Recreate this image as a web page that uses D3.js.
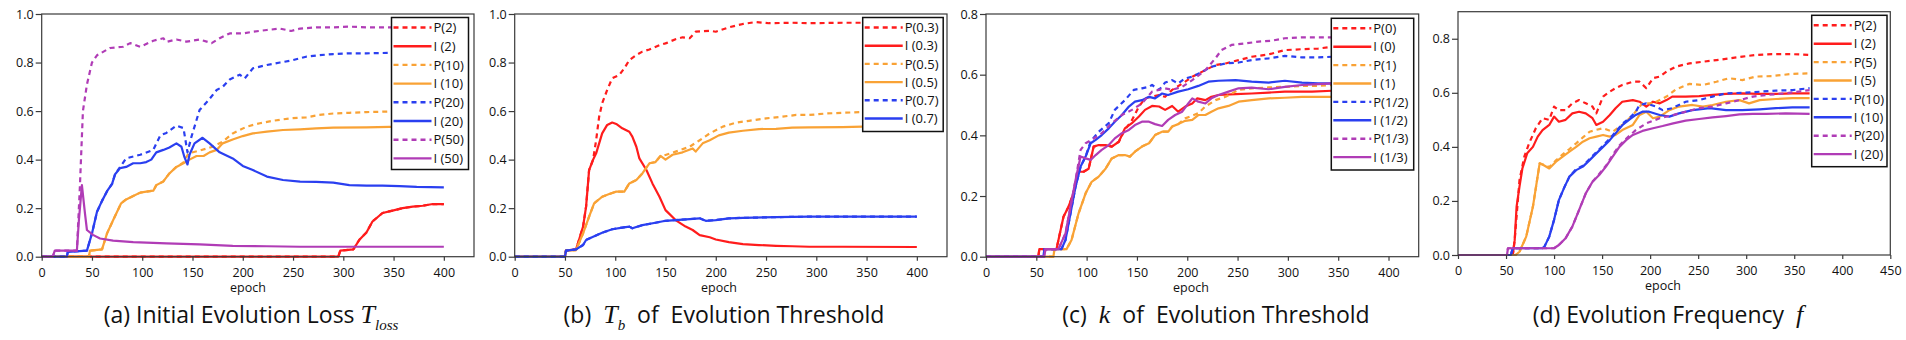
<!DOCTYPE html>
<html>
<head>
<meta charset="utf-8">
<script src="https://cdn.jsdelivr.net/npm/d3@7"></script>
<style>
  body { margin: 0; background: #fff; }
  text { white-space: pre; }
</style>
</head>
<body>
<svg id="chart" width="1906" height="340"></svg>
<script>
// ---- tick labels ----
const xTicks400 = [0, 50, 100, 150, 200, 250, 300, 350, 400];
const xTicks450 = [0, 50, 100, 150, 200, 250, 300, 350, 400, 450];
const yTicks10 = [0, 0.2, 0.4, 0.6, 0.8, 1.0];
const yTicks08 = [0, 0.2, 0.4, 0.6, 0.8];

// ---- legend labels ----
const legendA = ['P(2)', 'I (2)', 'P(10)', 'I (10)', 'P(20)', 'I (20)', 'P(50)', 'I (50)'];
const legendB = ['P(0.3)', 'I (0.3)', 'P(0.5)', 'I (0.5)', 'P(0.7)', 'I (0.7)'];
const legendC = ['P(0)', 'I (0)', 'P(1)', 'I (1)', 'P(1/2)', 'I (1/2)', 'P(1/3)', 'I (1/3)'];
const legendD = ['P(2)', 'I (2)', 'P(5)', 'I (5)', 'P(10)', 'I (10)', 'P(20)', 'I (20)'];

// ---- (a) initial evolution loss, [epoch, value] ----
const aP2 = [[0,0],[295,0],[297,0.025],[310,0.03],[316,0.07],[323,0.10],[329,0.145],[339,0.18],[349,0.19],[359,0.20],[369,0.206],[379,0.21],[389,0.217],[400,0.217]];
const aI2 = [[0,0],[295,0],[297,0.025],[310,0.03],[316,0.07],[323,0.10],[329,0.145],[339,0.18],[349,0.19],[359,0.20],[369,0.206],[379,0.21],[389,0.217],[400,0.217]];
const aP10 = [[0,0],[47,0],[48,0.025],[60,0.03],[65,0.096],[71,0.15],[79,0.22],[84,0.236],[91,0.25],[98,0.264],[104,0.268],[111,0.272],[114,0.295],[121,0.31],[127,0.343],[134,0.37],[141,0.388],[146,0.426],[157,0.437],[170,0.453],[180,0.474],[190,0.508],[204,0.536],[217,0.55],[230,0.56],[247,0.57],[263,0.574],[276,0.584],[290,0.59],[306,0.593],[323,0.596],[346,0.598],[400,0.598]];
const aI10 = [[0,0],[47,0],[48,0.025],[60,0.03],[65,0.096],[71,0.15],[79,0.22],[84,0.236],[91,0.25],[98,0.264],[104,0.268],[111,0.272],[114,0.295],[121,0.31],[127,0.343],[134,0.37],[141,0.385],[147,0.40],[154,0.415],[161,0.415],[167,0.43],[174,0.44],[180,0.467],[190,0.483],[200,0.497],[210,0.508],[224,0.515],[240,0.522],[257,0.525],[273,0.529],[290,0.532],[323,0.533],[346,0.535],[400,0.535]];
const aP20 = [[0,0],[25,0],[26,0.02],[45,0.025],[50,0.096],[55,0.185],[60,0.23],[65,0.27],[70,0.30],[73,0.34],[78,0.37],[84,0.405],[98,0.42],[111,0.44],[118,0.50],[124,0.51],[134,0.54],[141,0.53],[145,0.43],[149,0.495],[157,0.604],[166,0.645],[174,0.687],[180,0.70],[187,0.73],[197,0.75],[202,0.735],[210,0.776],[224,0.79],[237,0.80],[250,0.81],[263,0.824],[276,0.83],[290,0.835],[306,0.838],[323,0.838],[346,0.84],[400,0.845]];
const aI20 = [[0,0],[25,0],[26,0.02],[45,0.025],[50,0.096],[55,0.185],[60,0.23],[65,0.27],[70,0.30],[73,0.34],[78,0.365],[84,0.37],[91,0.385],[98,0.385],[104,0.39],[109,0.40],[114,0.43],[121,0.44],[127,0.45],[134,0.467],[139,0.453],[142,0.41],[145,0.38],[147,0.42],[152,0.467],[160,0.49],[167,0.467],[177,0.43],[190,0.405],[200,0.374],[210,0.357],[224,0.33],[240,0.316],[257,0.309],[273,0.308],[290,0.305],[306,0.295],[323,0.293],[339,0.293],[356,0.291],[373,0.288],[400,0.286]];
const aP50 = [[0,0],[11,0],[13,0.025],[35,0.025],[38,0.29],[41,0.6],[45,0.71],[50,0.80],[55,0.83],[68,0.86],[81,0.865],[88,0.88],[98,0.865],[111,0.89],[121,0.90],[124,0.885],[134,0.895],[144,0.886],[157,0.895],[169,0.88],[177,0.90],[187,0.92],[200,0.92],[210,0.927],[224,0.934],[237,0.94],[248,0.93],[257,0.94],[273,0.945],[290,0.945],[306,0.948],[323,0.945],[346,0.945],[400,0.945]];
const aI50 = [[0,0],[11,0],[13,0.025],[35,0.025],[37,0.15],[40,0.295],[43,0.18],[45,0.11],[51,0.09],[58,0.075],[71,0.066],[91,0.06],[124,0.055],[157,0.051],[190,0.045],[224,0.043],[257,0.041],[400,0.041]];

// ---- (b) T_b of evolution threshold ----
const bP03 = [[0,0],[50,0],[51,0.025],[61,0.03],[64,0.07],[68,0.124],[71,0.206],[74,0.357],[78,0.40],[81,0.48],[84,0.577],[87,0.632],[92,0.687],[97,0.735],[104,0.749],[109,0.776],[114,0.81],[121,0.831],[127,0.845],[134,0.854],[144,0.872],[150,0.879],[160,0.896],[167,0.904],[174,0.90],[180,0.927],[194,0.931],[200,0.927],[213,0.945],[227,0.959],[240,0.967],[253,0.962],[276,0.964],[293,0.962],[326,0.964],[400,0.964]];
const bI03 = [[0,0],[50,0],[51,0.025],[61,0.03],[64,0.07],[68,0.124],[71,0.206],[74,0.357],[78,0.40],[81,0.426],[84,0.467],[87,0.508],[92,0.543],[97,0.553],[101,0.547],[107,0.529],[114,0.515],[117,0.495],[121,0.453],[124,0.405],[131,0.357],[137,0.302],[144,0.247],[150,0.192],[160,0.151],[170,0.124],[177,0.11],[184,0.089],[194,0.08],[200,0.071],[213,0.06],[227,0.052],[243,0.048],[260,0.045],[276,0.043],[293,0.041],[326,0.041],[400,0.04]];
const bP05 = [[0,0],[50,0],[51,0.025],[61,0.027],[68,0.096],[74,0.165],[79,0.22],[87,0.247],[94,0.258],[101,0.268],[109,0.268],[114,0.302],[121,0.316],[127,0.343],[134,0.385],[140,0.39],[145,0.415],[150,0.419],[160,0.433],[174,0.453],[184,0.48],[194,0.508],[207,0.536],[220,0.552],[233,0.56],[250,0.57],[266,0.577],[280,0.584],[293,0.584],[310,0.59],[326,0.593],[346,0.596],[400,0.597]];
const bI05 = [[0,0],[50,0],[51,0.025],[61,0.027],[68,0.096],[74,0.165],[79,0.22],[87,0.247],[94,0.258],[101,0.268],[109,0.268],[114,0.302],[121,0.316],[127,0.343],[134,0.385],[140,0.39],[145,0.415],[150,0.40],[157,0.42],[167,0.43],[177,0.446],[180,0.433],[187,0.467],[194,0.48],[203,0.50],[213,0.511],[227,0.519],[243,0.526],[260,0.527],[276,0.532],[293,0.533],[326,0.534],[346,0.536],[400,0.536]];
const bP07 = [[0,0],[50,0],[51,0.025],[61,0.03],[68,0.048],[71,0.069],[78,0.082],[87,0.099],[97,0.113],[107,0.12],[114,0.124],[117,0.117],[127,0.13],[140,0.14],[150,0.148],[160,0.151],[174,0.155],[184,0.158],[190,0.148],[200,0.151],[213,0.158],[227,0.16],[260,0.163],[293,0.165],[326,0.165],[400,0.165]];
const bI07 = [[0,0],[50,0],[51,0.025],[61,0.03],[68,0.048],[71,0.069],[78,0.082],[87,0.099],[97,0.113],[107,0.12],[114,0.124],[117,0.117],[127,0.13],[140,0.14],[150,0.148],[160,0.151],[174,0.155],[184,0.158],[190,0.148],[200,0.151],[213,0.158],[227,0.16],[260,0.163],[293,0.165],[326,0.165],[400,0.165]];

// ---- (c) k of evolution threshold ----
const cP0 = [[0,0],[52,0],[53,0.025],[70,0.025],[72,0.055],[77,0.132],[82,0.165],[87,0.209],[92,0.28],[97,0.28],[102,0.29],[107,0.363],[112,0.368],[119,0.368],[125,0.363],[132,0.379],[138,0.418],[145,0.45],[152,0.495],[158,0.522],[172,0.533],[178,0.527],[185,0.55],[198,0.577],[205,0.593],[215,0.61],[228,0.632],[238,0.637],[251,0.648],[264,0.659],[281,0.667],[297,0.681],[314,0.684],[330,0.686],[344,0.692]];
const cI0 = [[0,0],[52,0],[53,0.025],[70,0.025],[72,0.055],[77,0.132],[82,0.165],[87,0.209],[92,0.28],[97,0.28],[102,0.29],[107,0.363],[112,0.368],[119,0.368],[125,0.363],[132,0.379],[138,0.423],[145,0.44],[152,0.462],[158,0.484],[165,0.497],[172,0.495],[178,0.484],[185,0.497],[191,0.478],[198,0.495],[205,0.505],[210,0.522],[218,0.516],[224,0.527],[231,0.533],[248,0.536],[264,0.538],[281,0.541],[297,0.544],[324,0.544],[344,0.547]];
const cP1 = [[0,0],[67,0],[68,0.025],[80,0.025],[85,0.055],[92,0.143],[99,0.209],[105,0.247],[112,0.264],[119,0.291],[125,0.324],[132,0.335],[138,0.335],[143,0.33],[148,0.346],[155,0.363],[162,0.374],[168,0.401],[175,0.412],[181,0.412],[185,0.429],[191,0.437],[198,0.456],[211,0.473],[218,0.495],[228,0.516],[238,0.527],[251,0.55],[264,0.555],[281,0.558],[297,0.56],[314,0.563],[330,0.563],[344,0.566]];
const cI1 = [[0,0],[67,0],[68,0.025],[80,0.025],[85,0.055],[92,0.143],[99,0.209],[105,0.247],[112,0.264],[119,0.291],[125,0.324],[132,0.335],[138,0.335],[143,0.33],[148,0.346],[155,0.363],[162,0.374],[168,0.401],[175,0.412],[181,0.412],[185,0.429],[191,0.437],[198,0.448],[205,0.451],[211,0.467],[218,0.467],[224,0.478],[231,0.489],[241,0.497],[251,0.511],[264,0.516],[281,0.522],[297,0.524],[314,0.527],[344,0.527]];
const cP2 = [[0,0],[57,0],[58,0.025],[75,0.025],[79,0.055],[84,0.143],[89,0.231],[94,0.297],[99,0.33],[104,0.38],[112,0.412],[122,0.44],[128,0.484],[138,0.516],[147,0.55],[155,0.555],[162,0.56],[165,0.566],[172,0.55],[178,0.574],[185,0.582],[191,0.571],[198,0.588],[205,0.593],[215,0.61],[224,0.626],[238,0.637],[251,0.64],[264,0.648],[281,0.654],[297,0.662],[314,0.657],[330,0.657],[344,0.659]];
const cI2 = [[0,0],[57,0],[58,0.025],[75,0.025],[79,0.055],[84,0.143],[89,0.231],[94,0.297],[99,0.33],[104,0.374],[109,0.385],[115,0.401],[122,0.423],[128,0.445],[135,0.467],[142,0.495],[148,0.511],[155,0.516],[162,0.527],[168,0.522],[175,0.538],[181,0.533],[191,0.544],[201,0.552],[211,0.563],[221,0.577],[231,0.58],[248,0.582],[264,0.577],[281,0.574],[297,0.58],[314,0.574],[330,0.571],[344,0.571]];
const cP3 = [[0,0],[58,0],[59,0.025],[72,0.025],[79,0.077],[84,0.165],[89,0.253],[94,0.352],[99,0.374],[105,0.385],[115,0.407],[125,0.44],[135,0.467],[145,0.484],[155,0.505],[165,0.544],[172,0.55],[178,0.555],[185,0.55],[195,0.56],[205,0.582],[218,0.615],[228,0.654],[234,0.681],[244,0.698],[258,0.703],[271,0.709],[284,0.712],[297,0.72],[314,0.723],[330,0.723],[344,0.723]];
const cI3 = [[0,0],[58,0],[59,0.025],[72,0.025],[79,0.077],[84,0.165],[89,0.253],[94,0.33],[99,0.324],[104,0.319],[109,0.335],[115,0.352],[122,0.368],[128,0.39],[135,0.407],[142,0.418],[148,0.434],[155,0.445],[162,0.445],[168,0.437],[175,0.431],[181,0.451],[188,0.467],[195,0.478],[201,0.505],[205,0.522],[211,0.511],[218,0.505],[224,0.522],[231,0.533],[241,0.544],[251,0.555],[264,0.557],[281,0.552],[297,0.56],[314,0.566],[330,0.569],[344,0.571]];

// ---- (d) evolution frequency f ----
const dP2 = [[0,0],[57,0],[59,0.055],[64,0.277],[69,0.364],[74,0.413],[81,0.469],[88,0.506],[95,0.50],[100,0.549],[105,0.536],[112,0.536],[119,0.561],[126,0.573],[133,0.561],[140,0.549],[144,0.524],[151,0.586],[158,0.604],[164,0.617],[171,0.629],[182,0.641],[189,0.641],[196,0.617],[203,0.654],[210,0.66],[217,0.678],[227,0.697],[241,0.709],[255,0.715],[269,0.721],[282,0.727],[296,0.734],[310,0.74],[327,0.743],[348,0.743],[366,0.74]];
const dI2 = [[0,0],[57,0],[59,0.055],[61,0.179],[64,0.253],[67,0.32],[72,0.376],[78,0.40],[83,0.438],[88,0.462],[95,0.481],[100,0.512],[105,0.493],[112,0.50],[119,0.524],[126,0.53],[133,0.524],[140,0.506],[144,0.481],[151,0.493],[158,0.518],[164,0.543],[171,0.567],[182,0.573],[189,0.567],[196,0.549],[203,0.567],[210,0.561],[217,0.573],[223,0.586],[237,0.586],[251,0.588],[265,0.592],[279,0.596],[296,0.598],[314,0.596],[331,0.596],[348,0.598],[366,0.598]];
const dP5 = [[0,0],[60,0],[64,0.012],[71,0.068],[78,0.179],[85,0.339],[88,0.335],[95,0.325],[102,0.35],[109,0.372],[116,0.392],[123,0.413],[130,0.435],[137,0.456],[144,0.463],[151,0.469],[161,0.456],[171,0.481],[182,0.518],[192,0.561],[203,0.561],[217,0.586],[227,0.613],[241,0.633],[255,0.629],[269,0.641],[282,0.654],[296,0.647],[310,0.66],[327,0.662],[348,0.67],[366,0.672]];
const dI5 = [[0,0],[60,0],[64,0.012],[71,0.068],[78,0.179],[85,0.339],[88,0.335],[95,0.32],[102,0.345],[109,0.364],[116,0.382],[123,0.40],[130,0.419],[137,0.432],[144,0.438],[151,0.444],[158,0.438],[164,0.444],[171,0.462],[182,0.481],[189,0.518],[196,0.53],[203,0.506],[210,0.512],[220,0.536],[230,0.549],[244,0.555],[255,0.549],[265,0.555],[279,0.567],[293,0.573],[303,0.561],[314,0.573],[331,0.577],[348,0.58],[366,0.58]];
const dP10 = [[0,0],[55,0],[57,0.025],[88,0.025],[90,0.031],[95,0.068],[100,0.13],[105,0.203],[111,0.253],[116,0.29],[123,0.318],[130,0.33],[137,0.355],[144,0.38],[151,0.405],[158,0.43],[164,0.455],[171,0.485],[178,0.505],[185,0.53],[189,0.555],[196,0.561],[206,0.549],[213,0.536],[223,0.543],[237,0.567],[251,0.573],[265,0.586],[279,0.598],[296,0.60],[314,0.604],[331,0.608],[348,0.61],[366,0.617]];
const dI10 = [[0,0],[55,0],[57,0.025],[88,0.025],[90,0.031],[95,0.068],[100,0.13],[105,0.203],[111,0.253],[116,0.29],[123,0.314],[130,0.327],[137,0.351],[144,0.376],[151,0.40],[158,0.425],[164,0.45],[171,0.48],[178,0.50],[185,0.518],[192,0.53],[199,0.53],[210,0.518],[220,0.512],[230,0.524],[244,0.536],[262,0.543],[279,0.536],[296,0.536],[314,0.539],[331,0.543],[348,0.546],[366,0.546]];
const dP20 = [[0,0],[51,0],[52,0.025],[100,0.025],[105,0.037],[112,0.062],[119,0.105],[126,0.166],[133,0.228],[140,0.271],[147,0.3],[154,0.33],[161,0.37],[168,0.405],[175,0.43],[185,0.462],[196,0.487],[210,0.506],[224,0.518],[237,0.53],[251,0.543],[265,0.549],[279,0.561],[293,0.573],[307,0.586],[321,0.592],[341,0.598],[366,0.61]];
const dI20 = [[0,0],[51,0],[52,0.025],[100,0.025],[105,0.037],[112,0.062],[119,0.105],[126,0.166],[133,0.228],[140,0.271],[147,0.296],[154,0.327],[161,0.364],[168,0.40],[175,0.425],[182,0.444],[192,0.459],[203,0.469],[213,0.477],[224,0.487],[237,0.497],[251,0.503],[265,0.509],[279,0.514],[293,0.52],[307,0.522],[321,0.522],[341,0.524],[366,0.522]];

// ---- styling ----
const RED = '#ff1c1c', ORANGE = '#f9a235', BLUE = '#2a3ff0', PURPLE = '#b03cb6';
const pairColors = [RED, RED, ORANGE, ORANGE, BLUE, BLUE, PURPLE, PURPLE];
const AXIS = '#3a3a3a';
const SANS = "'Open Sans', sans-serif";
const SERIF = "'Liberation Serif', 'Times New Roman', serif";

const panels = [
  {id: 'a', left: 41.7, right: 474, top: 14, bottom: 256.7, xMax: 430, yMax: 1.0,
   xTicks: xTicks400, yTicks: yTicks10, series: [aP2, aI2, aP10, aI10, aP20, aI20, aP50, aI50],
   labels: legendA, leg: {x: 391.5, y: 17.5, w: 77, h: 152, step: 18.7},
   epochX: 248, capX: 251},
  {id: 'b', left: 514.7, right: 947, top: 14, bottom: 256.7, xMax: 430, yMax: 1.0,
   xTicks: xTicks400, yTicks: yTicks10, series: [bP03, bI03, bP05, bI05, bP07, bI07],
   labels: legendB, leg: {x: 862.7, y: 17.5, w: 80.5, h: 114, step: 18.2},
   epochX: 719, capX: 724},
  {id: 'c', left: 986, right: 1418.7, top: 14, bottom: 256.7, xMax: 430, yMax: 0.8,
   xTicks: xTicks400, yTicks: yTicks08, series: [cP0, cI0, cP1, cI1, cP2, cI2, cP3, cI3],
   labels: legendC, leg: {x: 1331.3, y: 18.3, w: 82.4, h: 151.7, step: 18.4},
   epochX: 1191, capX: 1216},
  {id: 'd', left: 1458, right: 1890.3, top: 11.7, bottom: 255, xMax: 450, yMax: 0.9,
   xTicks: xTicks450, yTicks: yTicks08, series: [dP2, dI2, dP5, dI5, dP10, dI10, dP20, dI20],
   labels: legendD, leg: {x: 1811.7, y: 15.3, w: 75.3, h: 151.4, step: 18.4},
   epochX: 1663, capX: 1668}
];

const svg = d3.select('#chart');

panels.forEach(p => {
  const x = d3.scaleLinear().domain([0, p.xMax]).range([p.left, p.right]);
  const y = d3.scaleLinear().domain([0, p.yMax]).range([p.bottom, p.top]);
  const g = svg.append('g').attr('class', 'panel-' + p.id);

  const line = d3.line().x(d => x(d[0])).y(d => y(d[1]));

  g.selectAll('path.series')
    .data(p.series)
    .enter().append('path')
      .attr('class', 'series')
      .attr('d', line)
      .attr('fill', 'none')
      .attr('stroke', (d, i) => pairColors[i])
      .attr('stroke-width', 2.2)
      .attr('stroke-linejoin', 'round')
      .attr('stroke-dasharray', (d, i) => i % 2 === 0 ? '5,4' : null);

  // frame
  g.append('rect')
    .attr('x', p.left).attr('y', p.top)
    .attr('width', p.right - p.left).attr('height', p.bottom - p.top)
    .attr('fill', 'none').attr('stroke', AXIS).attr('stroke-width', 1.2);

  const xAxis = g.append('g')
    .attr('transform', `translate(0,${p.bottom})`)
    .call(d3.axisBottom(x).tickValues(p.xTicks).tickSize(4).tickPadding(7).tickSizeOuter(0));
  const yAxis = g.append('g')
    .attr('transform', `translate(${p.left},0)`)
    .call(d3.axisLeft(y).tickValues(p.yTicks).tickFormat(d3.format('.1f')).tickSize(6).tickPadding(2).tickSizeOuter(0));

  [xAxis, yAxis].forEach(ax => {
    ax.select('.domain').remove();
    ax.selectAll('line').attr('stroke', AXIS).attr('stroke-width', 1.2);
    ax.selectAll('text').attr('fill', '#111').attr('font-family', SANS).attr('font-size', 12.5);
  });

  // legend
  const lg = g.append('g').attr('transform', `translate(${p.leg.x},${p.leg.y})`);
  lg.append('rect')
    .attr('width', p.leg.w).attr('height', p.leg.h)
    .attr('fill', '#fff').attr('stroke', '#111').attr('stroke-width', 1.5);
  const rows = lg.selectAll('g.row')
    .data(p.labels)
    .enter().append('g')
      .attr('transform', (d, i) => `translate(0,${10 + i * p.leg.step})`);
  rows.append('line')
    .attr('x1', 2).attr('x2', 40).attr('y1', 0).attr('y2', 0)
    .attr('stroke', (d, i) => pairColors[i])
    .attr('stroke-width', 2.4)
    .attr('stroke-dasharray', (d, i) => i % 2 === 0 ? '5,4' : null);
  rows.append('text')
    .attr('x', 42).attr('y', 0).attr('dy', '0.36em')
    .attr('font-family', SANS).attr('font-size', 13).attr('fill', '#111')
    .text(d => d);

  // x label
  g.append('text')
    .attr('x', p.epochX).attr('y', p.bottom + 35)
    .attr('text-anchor', 'middle')
    .attr('font-family', SANS).attr('font-size', 12.5).attr('fill', '#111')
    .text('epoch');

  // caption
  const cap = g.append('text')
    .attr('x', p.capX).attr('y', 323)
    .attr('text-anchor', 'middle')
    .attr('font-family', SANS).attr('font-size', 23).attr('fill', '#111');
  const it = (txt, size, dy) => cap.append('tspan')
    .attr('font-family', SERIF).attr('font-style', 'italic')
    .attr('font-size', size).attr('dy', dy || 0).text(txt);
  if (p.id === 'a') {
    cap.append('tspan').text('(a) Initial Evolution Loss ');
    it('T', 26);
    it('loss', 15, 7);
  } else if (p.id === 'b') {
    cap.append('tspan').text('(b)  ');
    it('T', 26);
    it('b', 15, 7);
    cap.append('tspan').attr('dy', -7).text('  of  Evolution Threshold');
  } else if (p.id === 'c') {
    cap.append('tspan').text('(c)  ');
    it('k', 26);
    cap.append('tspan').text('  of  Evolution Threshold');
  } else {
    cap.append('tspan').text('(d) Evolution Frequency  ');
    it('f', 26);
  }
});
</script>
</body>
</html>
